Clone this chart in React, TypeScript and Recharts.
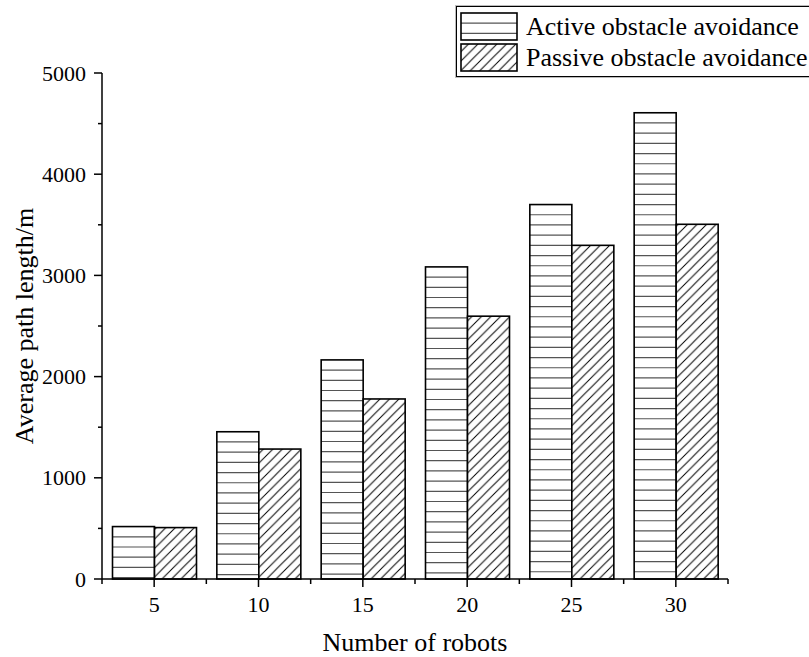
import { BarChart, Bar, XAxis, YAxis } from "recharts";

const robots = ["5", "10", "15", "20", "25", "30"];
const activeLength = [518, 1455, 2165, 3084, 3700, 4607];
const passiveLength = [508, 1284, 1779, 2597, 3297, 3505];
const yTicks = [0, 500, 1000, 1500, 2000, 2500, 3000, 3500, 4000, 4500, 5000];

const seriesNames = ["Active obstacle avoidance", "Passive obstacle avoidance"];

const data = robots.map((r, i) => ({
  robots: r,
  active: activeLength[i],
  passive: passiveLength[i],
}));

const FONT = "'Liberation Serif', 'Times New Roman', serif";
const LINE_GAP = 10.2;
const BAND = (728 - 102) / robots.length;

const LinedBar = (props: any) => {
  const { x, y, width, height } = props;
  const lines = [];
  for (let ly = y + LINE_GAP; ly < y + height - 1; ly += LINE_GAP) {
    lines.push(
      <line key={ly} x1={x} x2={x + width} y1={ly} y2={ly} stroke="#555" strokeWidth={1.2} />
    );
  }
  return (
    <g>
      <rect x={x} y={y} width={width} height={height} fill="#fff" />
      {lines}
      <rect x={x} y={y} width={width} height={height} fill="none" stroke="#000" strokeWidth={1.6} />
    </g>
  );
};

const HatchBar = (props: any) => {
  const { x, y, width, height } = props;
  return (
    <rect x={x} y={y} width={width} height={height} fill="url(#diag)" stroke="#000" strokeWidth={1.6} />
  );
};

const YTick = (props: any) => {
  const { x, y, payload } = props;
  const major = payload.value % 1000 === 0;
  return (
    <g>
      <line x1={x - (major ? 8 : 4)} x2={x} y1={y} y2={y} stroke="#000" strokeWidth={1.5} />
      {major && (
        <text x={x - 16} y={y + 7.5} textAnchor="end" fontFamily={FONT} fontSize={22} fill="#000">
          {payload.value}
        </text>
      )}
    </g>
  );
};

const XTick = (props: any) => {
  const { x, y, payload, index } = props;
  const last = index === robots.length - 1;
  return (
    <g>
      <line x1={x} x2={x} y1={y} y2={y + 8} stroke="#000" strokeWidth={1.5} />
      <line x1={x - BAND / 2} x2={x - BAND / 2} y1={y} y2={y + 5} stroke="#000" strokeWidth={1.5} />
      {last && <line x1={x + BAND / 2} x2={x + BAND / 2} y1={y} y2={y + 5} stroke="#000" strokeWidth={1.5} />}
      <text x={x} y={y + 33} textAnchor="middle" fontFamily={FONT} fontSize={22} fill="#000">
        {payload.value}
      </text>
    </g>
  );
};

const YLabel = (props: any) => {
  const { viewBox } = props;
  const cx = viewBox.x + 33;
  const cy = viewBox.y + viewBox.height / 2;
  return (
    <text x={cx} y={cy} transform={`rotate(-90 ${cx} ${cy})`} textAnchor="middle" fontFamily={FONT} fontSize={26} fill="#000">
      Average path length/m
    </text>
  );
};

const XLabel = (props: any) => {
  const { viewBox } = props;
  const cx = viewBox.x + viewBox.width / 2;
  return (
    <text x={cx} y={viewBox.y + 72} textAnchor="middle" fontFamily={FONT} fontSize={26} fill="#000">
      Number of robots
    </text>
  );
};

function Swatch({ kind }: { kind: number }) {
  return (
    <svg width={58} height={29} style={{ display: "block" }}>
      {kind === 0 ? (
        <LinedBar x={1} y={1} width={56} height={27} />
      ) : (
        <HatchBar x={1} y={1} width={56} height={27} />
      )}
    </svg>
  );
}

export default function App() {
  return (
    <div style={{ position: "absolute", left: 0, top: 0, width: 809, height: 657, overflow: "hidden", background: "#fff" }}>
      <svg width={0} height={0} style={{ position: "absolute" }}>
        <defs>
          <pattern id="diag" patternUnits="userSpaceOnUse" width={9.5} height={9.5}>
            <rect width={9.5} height={9.5} fill="#fff" />
            <path d="M0,9.5 L9.5,0 M-2,2 L2,-2 M7.5,11.5 L11.5,7.5" stroke="#000" strokeWidth={1} />
          </pattern>
        </defs>
      </svg>
      <BarChart
        width={809}
        height={657}
        data={data}
        margin={{ top: 73, right: 81, bottom: 0, left: 0 }}
        barCategoryGap={10.5}
        barGap={0}
      >
        <XAxis
          dataKey="robots"
          height={78}
          axisLine={{ stroke: "#000", strokeWidth: 1.5 }}
          tickLine={false}
          tickSize={0}
          tickMargin={0}
          tick={<XTick />}
          interval={0}
          label={<XLabel />}
        />
        <YAxis
          width={102}
          domain={[0, 5000]}
          ticks={yTicks}
          interval={0}
          axisLine={{ stroke: "#000", strokeWidth: 1.5 }}
          tickLine={false}
          tickSize={0}
          tickMargin={0}
          tick={<YTick />}
          label={<YLabel />}
        />
        <Bar dataKey="active" name={seriesNames[0]} shape={<LinedBar />} isAnimationActive={false} />
        <Bar dataKey="passive" name={seriesNames[1]} shape={<HatchBar />} isAnimationActive={false} />
      </BarChart>
      <div
        style={{
          position: "absolute",
          left: 456,
          top: 6,
          width: 400,
          height: 69,
          border: "1.5px solid #000",
          boxShadow: "0 0 0 1px #bbb",
          fontFamily: FONT,
          fontSize: 26,
          background: "#fff",
        }}
      >
        {seriesNames.map((name, i) => (
          <div key={name} style={{ display: "flex", alignItems: "center", height: 31, marginTop: i === 0 ? 4 : 0, marginLeft: 3 }}>
            <Swatch kind={i} />
            <span style={{ marginLeft: 8, lineHeight: "31px", whiteSpace: "nowrap" }}>{name}</span>
          </div>
        ))}
      </div>
    </div>
  );
}
